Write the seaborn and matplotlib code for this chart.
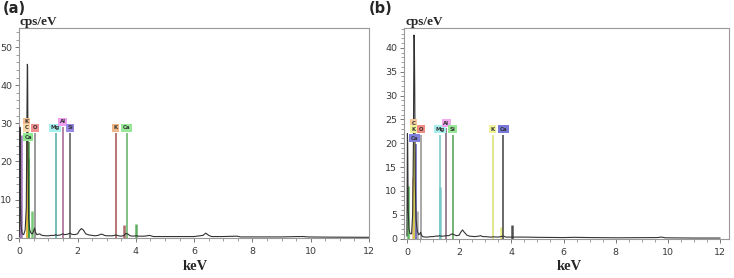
import numpy as np
import pandas as pd
import seaborn as sns
import matplotlib
matplotlib.use("Agg")
import matplotlib.pyplot as plt
from matplotlib.ticker import MultipleLocator

# ---------------- data ----------------
spec_a_keV = [0.0, 0.01, 0.02, 0.03, 0.04, 0.06, 0.1, 0.15, 0.2, 0.24, 0.26, 0.275, 0.285, 0.3, 0.32,
              0.36, 0.4, 0.45, 0.5, 0.525, 0.55, 0.6, 0.65, 0.7, 0.75, 0.8, 0.9, 1.0, 1.1, 1.2, 1.25,
              1.3, 1.4, 1.49, 1.55, 1.65, 1.74, 1.8, 1.9, 2.0, 2.06, 2.13, 2.2, 2.28, 2.4, 2.5, 2.6,
              2.7, 2.8, 2.85, 2.92, 3.0, 3.1, 3.2, 3.31, 3.4, 3.5, 3.6, 3.65, 3.72, 3.8, 3.9, 4.0,
              4.1, 4.3, 4.47, 4.6, 5.0, 5.5, 6.0, 6.3, 6.4, 6.5, 6.6, 7.0, 7.47, 7.6, 8.0, 9.0,
              9.6, 9.75, 9.9, 10.5, 12.0]
spec_a_cps = [0.3, 5, 29, 28, 10, 3, 1, 0.8, 2, 8, 30, 45.5, 45, 20, 5,
              2, 1.2, 1.0, 2.0, 2.5, 1.5, 0.8, 0.9, 1.0, 0.7, 0.6, 0.5, 0.5, 0.6, 0.6, 0.8,
              0.6, 0.7, 1.0, 0.8, 0.9, 1.2, 0.9, 0.8, 1.0, 1.8, 2.4, 2.0, 1.0, 0.7, 0.6, 0.5,
              0.6, 0.9, 0.9, 0.6, 0.5, 0.5, 0.5, 0.7, 0.5, 0.4, 0.6, 1.1, 1.0, 0.5, 0.4, 0.5,
              0.4, 0.4, 0.6, 0.3, 0.3, 0.3, 0.3, 0.6, 1.2, 0.6, 0.3, 0.3, 0.4, 0.2, 0.2, 0.2,
              0.3, 0.3, 0.2, 0.15, 0.1]

spec_b_keV = [0.0, 0.01, 0.02, 0.03, 0.05, 0.08, 0.12, 0.18, 0.22, 0.25, 0.27, 0.285, 0.3, 0.32,
              0.35, 0.4, 0.45, 0.5, 0.525, 0.55, 0.6, 0.7, 0.8, 0.9, 1.0, 1.1, 1.2, 1.25, 1.3,
              1.4, 1.49, 1.6, 1.74, 1.8, 1.9, 2.0, 2.06, 2.13, 2.2, 2.3, 2.4, 2.6, 2.75, 2.83,
              2.9, 3.0, 3.2, 3.31, 3.5, 3.69, 3.8, 4.0, 4.2, 4.5, 5.0, 6.0, 6.4, 7.0, 8.0,
              9.6, 9.75, 9.9, 11.0, 12.0]
spec_b_cps = [0.5, 10, 22, 20, 6, 2, 1, 1, 5, 20, 42.7, 42, 32, 12,
              4, 1.5, 0.8, 1.0, 1.3, 0.8, 0.4, 0.3, 0.3, 0.4, 0.4, 0.5, 0.5, 0.6, 0.5,
              0.5, 0.6, 0.6, 1.0, 0.8, 0.6, 0.7, 1.3, 1.8, 1.3, 0.7, 0.5, 0.4, 0.5, 0.6,
              0.4, 0.4, 0.3, 0.35, 0.3, 0.5, 0.3, 0.3, 0.3, 0.3, 0.25, 0.2, 0.25, 0.2, 0.15,
              0.2, 0.3, 0.15, 0.1, 0.1]

# element labels (text, label x, label y, line x, box colour, line colour)
a_labels = ["K", "C", "O", "Ca", "Mg", "Al", "Si", "K", "Ca"]
a_label_x = [0.25, 0.25, 0.53, 0.30, 1.23, 1.49, 1.74, 3.31, 3.68]
a_label_y = [30.4, 28.9, 28.9, 26.4, 28.9, 30.4, 28.9, 28.9, 28.9]
a_line_x = [0.26, 0.28, 0.525, 0.34, 1.25, 1.49, 1.74, 3.31, 3.69]
a_box_col = ["#f5c090", "#f8d8a8", "#f09090", "#90e890", "#a8f0f0", "#f0a0f0", "#9888e8", "#f0b888", "#98e898"]
a_line_col = ["#e8a050", "#e0c040", "#808080", "#40a040", "#50a8a0", "#a06090", "#555555", "#a05050", "#60b060"]

b_labels = ["C", "K", "O", "Ca", "Mg", "Al", "Si", "K", "Ca"]
b_label_x = [0.25, 0.25, 0.54, 0.29, 1.26, 1.51, 1.75, 3.29, 3.70]
b_label_y = [24.2, 22.9, 22.9, 21.0, 22.9, 24.2, 22.9, 22.9, 22.9]
b_line_x = [0.28, 0.26, 0.525, 0.34, 1.25, 1.50, 1.75, 3.31, 3.70]
b_box_col = ["#f5c89a", "#eef29a", "#f08c84", "#8080e0", "#a8f0f0", "#f0a8f0", "#98e898", "#eef29a", "#7878d8"]
b_line_col = ["#e0a060", "#d0d850", "#909090", "#6060c0", "#70c8c8", "#806078", "#50a050", "#d8e070", "#404040"]

# short coloured peak markers (energy, height, colour)
a_peak_x = [0.005, 0.075, 0.25, 0.31, 0.42, 3.59, 4.01]
a_peak_h = [27, 27, 22, 21, 7, 3.3, 3.6]
a_peak_c = ["#9060b0", "#9060b0", "#e0b030", "#309030", "#60c060", "#a05050", "#40a040"]

b_peak_x = [0.03, 0.22, 0.26, 0.38, 1.25, 3.59, 4.01]
b_peak_h = [11, 13, 18, 5.7, 10.8, 2.5, 2.8]
b_peak_c = ["#40b040", "#e8a070", "#e09060", "#a0a0a0", "#70c0c0", "#e8e870", "#303030"]

# ---------------- plot ----------------
sns.set_style("white")
plt.rcParams['font.family'] = ['DejaVu Sans']

fig = plt.figure(figsize=(7.34, 2.78), dpi=100)
ax_a = fig.add_axes([0.0263, 0.145, 0.4764, 0.7554])
ax_b = fig.add_axes([0.5508, 0.1403, 0.4428, 0.7577])


def draw(ax, kx, ky, labels, lx, ly, linex, boxc, linec, px, ph, pc, gap, ylim, xlim, ymajor, yminor):
    df = pd.DataFrame({"keV": kx, "cps": ky})
    for x, h, c in zip(px, ph, pc):
        ax.vlines(x, 0, h, color=c, lw=1.8, alpha=0.85, zorder=2)
    for t, x, y, lxx, bc, lc in zip(labels, lx, ly, linex, boxc, linec):
        ax.vlines(lxx, 0, y - gap, color=lc, lw=1.1, zorder=3)
    sns.lineplot(data=df, x="keV", y="cps", ax=ax, color="#333333", lw=0.8, zorder=4)
    for t, x, y, bc in zip(labels, lx, ly, boxc):
        ax.text(x, y, t, fontsize=3.9, fontweight="bold", color="#333333",
                ha="center", va="center", zorder=5,
                bbox=dict(boxstyle="square,pad=0.28", fc=bc, ec="none"))
    ax.set_xlim(*xlim)
    ax.set_ylim(*ylim)
    ax.xaxis.set_major_locator(MultipleLocator(2))
    ax.xaxis.set_minor_locator(MultipleLocator(0.5))
    ax.yaxis.set_major_locator(MultipleLocator(ymajor))
    ax.yaxis.set_minor_locator(MultipleLocator(yminor))
    ax.tick_params(axis="both", which="major", direction="out", length=3, width=0.7,
                   color="#777777", labelsize=6.8, labelcolor="#3a3a3a", pad=2,
                   bottom=True, left=True)
    ax.tick_params(axis="x", which="major", pad=3.5)
    ax.tick_params(axis="both", which="minor", direction="out", length=2, width=0.5,
                   color="#777777", bottom=True, left=True)
    for s in ax.spines.values():
        s.set_color("#999999")
        s.set_linewidth(0.8)
    ax.set_xlabel("")
    ax.set_ylabel("")


draw(ax_a, spec_a_keV, spec_a_cps, a_labels, a_label_x, a_label_y, a_line_x, a_box_col, a_line_col,
     a_peak_x, a_peak_h, a_peak_c, 1.4, (0, 55.1), (0, 12.0), 10, 2)
draw(ax_b, spec_b_keV, spec_b_cps, b_labels, b_label_x, b_label_y, b_line_x, b_box_col, b_line_col,
     b_peak_x, b_peak_h, b_peak_c, 1.1, (-0.1, 44.1), (-0.1, 12.35), 5, 1)

serif = ["Liberation Serif", "DejaVu Serif"]
fig.text(0.004, 0.968, "(a)", fontsize=10.5, fontweight="bold", ha="left", va="center")
fig.text(0.503, 0.968, "(b)", fontsize=10.5, fontweight="bold", ha="left", va="center")
fig.text(0.027, 0.922, "cps/eV", fontsize=9.5, fontweight="bold", family=serif, ha="left", va="center")
fig.text(0.552, 0.922, "cps/eV", fontsize=9.5, fontweight="bold", family=serif, ha="left", va="center")
fig.text(0.266, 0.04, "keV", fontsize=10.5, fontweight="bold", family=serif, ha="center", va="center")
fig.text(0.775, 0.04, "keV", fontsize=10.5, fontweight="bold", family=serif, ha="center", va="center")

fig.savefig("out.png", dpi=100)
